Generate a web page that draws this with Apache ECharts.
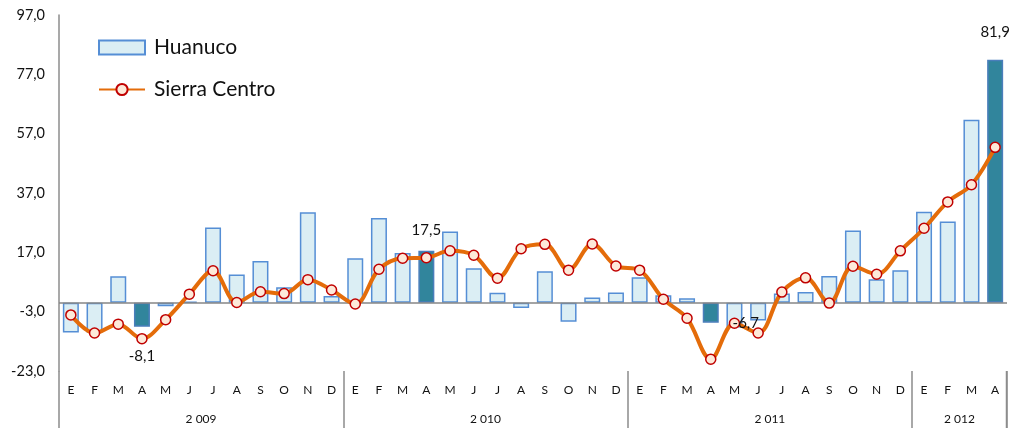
<!DOCTYPE html>
<html>
<head>
<meta charset="utf-8">
<script src="https://cdn.jsdelivr.net/npm/echarts@6/dist/echarts.min.js"></script>
<style>html,body{margin:0;padding:0;background:#fff;}#c{width:1009px;height:428px;}</style>
</head>
<body>
<div id="c"></div>
<script>
const monthLetters = ['E','F','M','A','M','J','J','A','S','O','N','D'];
const years = ['2 009','2 010','2 011','2 012'];
const monthsPerYear = [12, 12, 12, 4];
const huanuco = [
  -10.0, -10.0, 8.9, -8.1, -1.2, 0.4, 25.4, 9.5, 14.1, 5.2, 30.5, 2.3,
  15.0, 28.6, 16.8, 17.5, 24.0, 11.6, 3.4, -1.8, 10.6, -6.4, 1.8, 3.5,
  8.6, 2.5, 1.5, -6.7, -8.3, -6.0, 3.1, 3.6, 9.0, 24.4, 7.9, 11.0,
  30.7, 27.4, 61.7, 81.9
];
const sierraCentro = [
  -4.1, -10.2, -7.2, -12.1, -5.7, 2.9, 10.8, 0.1, 3.7, 3.1, 7.8, 4.3,
  -0.4, 11.3, 15.0, 15.2, 17.5, 16.0, 8.3, 18.2, 19.7, 11.0, 19.8, 12.4,
  11.0, 1.2, -5.2, -19.0, -6.9, -10.2, 3.6, 8.4, -0.1, 12.3, 9.6, 17.5,
  25.1, 34.0, 39.8, 52.4
];
const highlighted = [3, 15, 27, 39];
const yTicks = { min: -23, max: 97, interval: 20 };

const monthCats = [];
const yearCats = [];
const yearLabelIdx = [];
years.forEach((y, k) => {
  const n = monthsPerYear[k];
  const start = monthCats.length;
  for (let i = 0; i < n; i++) { monthCats.push(monthLetters[i]); yearCats.push(y); }
  yearLabelIdx.push(start + Math.floor(n / 2));
});
const fmt = v => v.toFixed(1).replace('.', ',');
const labelFont = { fontSize: 15, color: '#111', fontFamily: 'Lato' };

const barData = huanuco.map((v, i) => {
  if (highlighted.indexOf(i) < 0) return v;
  const item = { value: v, itemStyle: { color: '#31859C', borderColor: '#4A7EBB' } };
  if (i === 27) return item; // its label is drawn above the line (see markPoint)
  item.label = Object.assign({ show: true, formatter: p => fmt(p.value) }, labelFont);
  if (i === 3) { item.label.position = 'bottom'; item.label.distance = 22; }
  else { item.label.position = 'top'; item.label.distance = (i === 39 ? 20 : 13); }
  return item;
});

const gridCfg = { left: 59, right: 2, top: 15, bottom: 57, containLabel: false };
const chart = echarts.init(document.getElementById('c'), null, { renderer: 'canvas' });
chart.setOption({
  animation: false,
  textStyle: { fontFamily: 'Lato' },
  grid: gridCfg,
  legend: {
    orient: 'vertical', left: 93, top: 32, itemWidth: 46, itemHeight: 14, itemGap: 21,
    textStyle: { fontSize: 21, color: '#111', fontFamily: 'Lato', padding: [0, 0, 0, 4] },
    data: [{ name: 'Huanuco', icon: 'rect' }, { name: 'Sierra Centro' }]
  },
  xAxis: [
    {
      type: 'category', data: monthCats, position: 'bottom', boundaryGap: true,
      axisLine: { show: false, onZero: false },
      axisTick: { show: true, length: 57, interval: i => i % 12 === 0, lineStyle: { color: '#8c8c8c', width: 1.5 } },
      axisLabel: { interval: 0, margin: 13, fontSize: 12, color: '#111', fontFamily: 'Lato' }
    },
    {
      type: 'category', data: yearCats, position: 'bottom', offset: 0, boundaryGap: true,
      axisLine: { show: false, onZero: false }, axisTick: { show: false },
      axisLabel: { interval: i => yearLabelIdx.indexOf(i) >= 0, margin: 42, fontSize: 12, color: '#111',
        fontFamily: 'Lato', padding: [0, 24, 0, 0] }
    }
  ],
  yAxis: {
    type: 'value', min: yTicks.min, max: yTicks.max, interval: yTicks.interval,
    axisLine: { show: true, lineStyle: { color: '#8c8c8c', width: 1.5 } },
    axisTick: { show: false }, splitLine: { show: false },
    axisLabel: { formatter: v => fmt(v), fontSize: 14.5, color: '#111', margin: 14, fontFamily: 'Lato' }
  },
  series: [
    {
      name: 'Huanuco', type: 'bar', data: barData, barWidth: 16,
      itemStyle: { color: '#DBEEF4', borderColor: '#558ED5', borderWidth: 1.5 },
      markLine: {
        silent: true, symbol: 'none', label: { show: false },
        lineStyle: { color: '#868686', width: 1.5, type: 'solid' },
        data: [{ yAxis: 0 }]
      }
    },
    {
      name: 'Sierra Centro', type: 'line', data: sierraCentro, smooth: 0.35,
      symbol: 'circle', symbolSize: 10,
      lineStyle: { color: '#E46C0A', width: 4 },
      itemStyle: { color: '#FDE9D9', borderColor: '#C00000', borderWidth: 1.5 },
      z: 5,
      markPoint: {
        silent: true, z: 20, symbol: 'circle', symbolSize: 1, itemStyle: { color: 'rgba(0,0,0,0)' },
        label: Object.assign({ show: true, position: 'inside', offset: [35, 1], formatter: p => fmt(p.value) }, labelFont),
        data: [{ coord: [27, huanuco[27]], value: huanuco[27] }]
      }
    }
  ]
});
// closing separator at the right end of the category axis (decorative)
const rect = chart.getModel().getComponent('grid', 0).coordinateSystem.getRect();
const xEnd = Math.round(rect.x + rect.width) - 0.5;
chart.setOption({
  graphic: [{
    type: 'line', silent: true,
    shape: { x1: xEnd, y1: rect.y + rect.height, x2: xEnd, y2: rect.y + rect.height + 57 },
    style: { stroke: '#8c8c8c', lineWidth: 1.5 }
  }]
});
</script>
</body>
</html>
